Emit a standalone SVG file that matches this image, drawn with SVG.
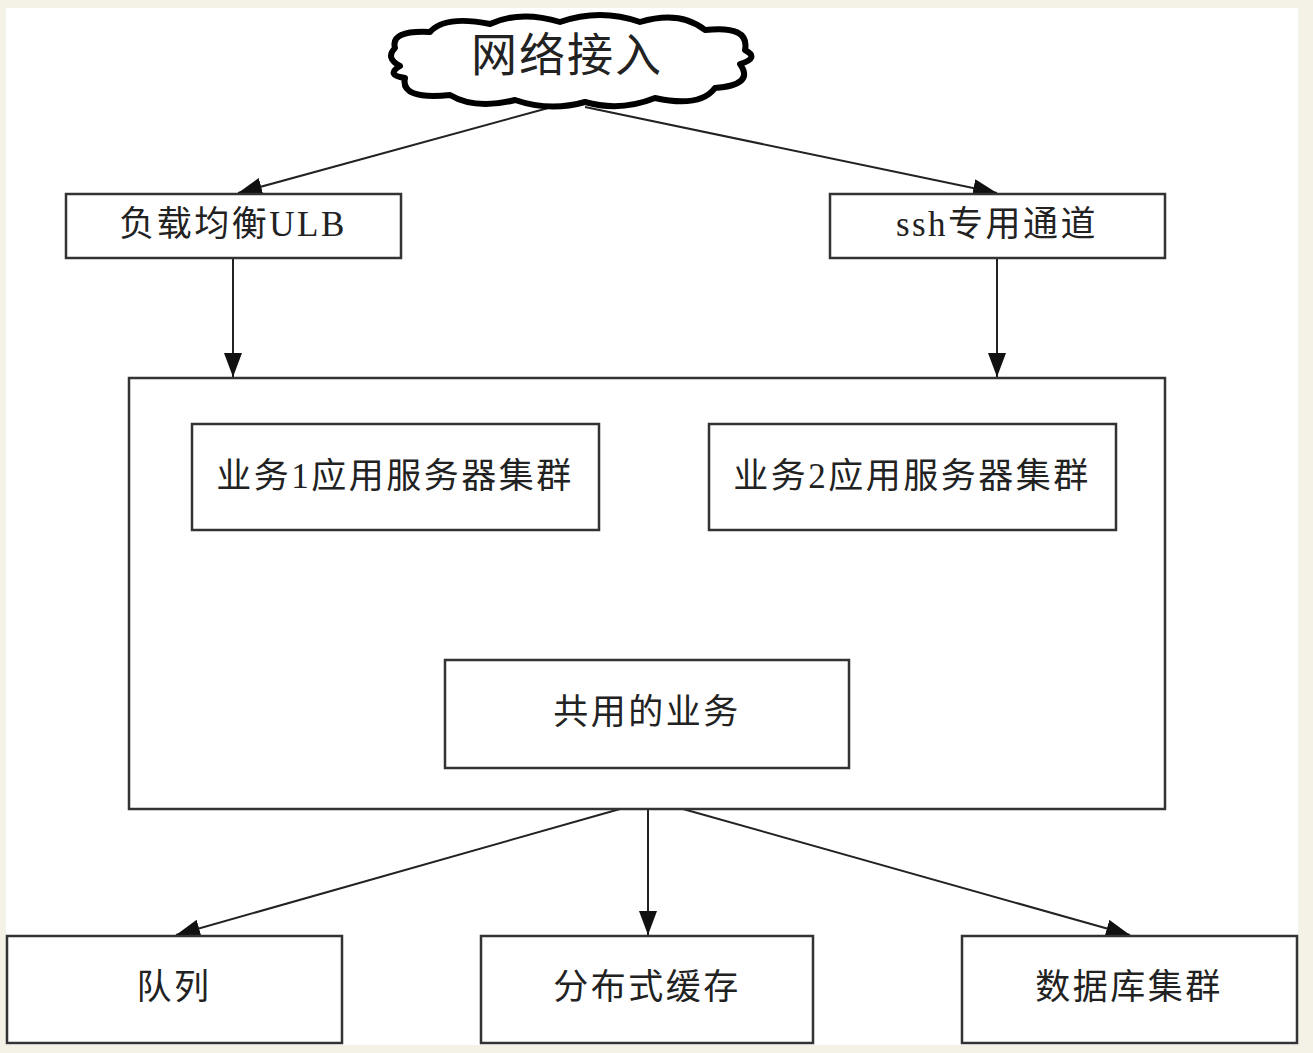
<svg xmlns="http://www.w3.org/2000/svg" width="1313" height="1053" viewBox="0 0 1313 1053">
<style>
.box{fill:#fff;stroke:#333;stroke-width:2.5}
.lbl{font-family:"Liberation Serif","Noto Sans CJK SC",serif;font-size:35px;fill:#222;text-anchor:middle;dominant-baseline:central;letter-spacing:2.5px}
.conn{stroke:#222;stroke-width:2;fill:none;marker-end:url(#ah)}
</style>
<defs>
<marker id="ah" markerUnits="userSpaceOnUse" markerWidth="24" markerHeight="18" refX="24" refY="9" orient="auto">
<path d="M0,0 L24,9 L0,18 Z" fill="#111"/>
</marker>
</defs>
<rect width="1313" height="1053" fill="#f4f1e6"/>
<rect x="6" y="8" width="1292" height="1037" fill="#fff"/>
<g id="connectors">
<line class="conn" x1="552" y1="107" x2="238" y2="193"/>
<line class="conn" x1="585" y1="107" x2="997" y2="193"/>
<line class="conn" x1="233" y1="258" x2="233" y2="377"/>
<line class="conn" x1="997" y1="258" x2="997" y2="377"/>
<line class="conn" x1="397" y1="530" x2="638" y2="659"/>
<line class="conn" x1="881" y1="530" x2="686" y2="659"/>
<line class="conn" x1="620" y1="809" x2="176" y2="935"/>
<line class="conn" x1="648" y1="809" x2="648" y2="935"/>
<line class="conn" x1="683" y1="809" x2="1130" y2="935"/>
</g>
<g id="cloud">
<path d="M395,48 Q390,30 430,32 Q445,15 490,24 Q520,10 560,22 Q600,8 640,22 Q680,10 705,30 Q750,25 745,50 Q760,58 740,64 Q755,85 715,88 Q700,108 655,98 Q620,112 585,102 Q550,112 515,100 Q475,110 450,95 Q400,100 405,78 Q385,75 400,66 Q385,58 395,48 Z" fill="#fff" stroke="#000" stroke-width="6" stroke-linejoin="round"/>
<text class="lbl" x="567" y="55" style="font-size:46px;letter-spacing:2px">网络接入</text>
</g>
<g id="ulb"><rect class="box" x="66" y="194" width="335" height="64"/><text class="lbl" x="233" y="224">负载均衡ULB</text></g>
<g id="ssh"><rect class="box" x="830" y="194" width="335" height="64"/><text class="lbl" x="997" y="224">ssh专用通道</text></g>
<g id="container"><rect class="box" x="129" y="378" width="1036" height="431" fill="none"/></g>
<g id="biz1"><rect class="box" x="192" y="424" width="407" height="106"/><text class="lbl" x="395" y="476">业务1应用服务器集群</text></g>
<g id="biz2"><rect class="box" x="709" y="424" width="407" height="106"/><text class="lbl" x="912" y="476">业务2应用服务器集群</text></g>
<g id="shared"><rect class="box" x="445" y="660" width="404" height="108"/><text class="lbl" x="647" y="712">共用的业务</text></g>
<g id="queue"><rect class="box" x="7" y="936" width="335" height="107"/><text class="lbl" x="174" y="987">队列</text></g>
<g id="cache"><rect class="box" x="481" y="936" width="332" height="107"/><text class="lbl" x="647" y="987">分布式缓存</text></g>
<g id="db"><rect class="box" x="962" y="936" width="335" height="107"/><text class="lbl" x="1129" y="987">数据库集群</text></g>
</svg>
